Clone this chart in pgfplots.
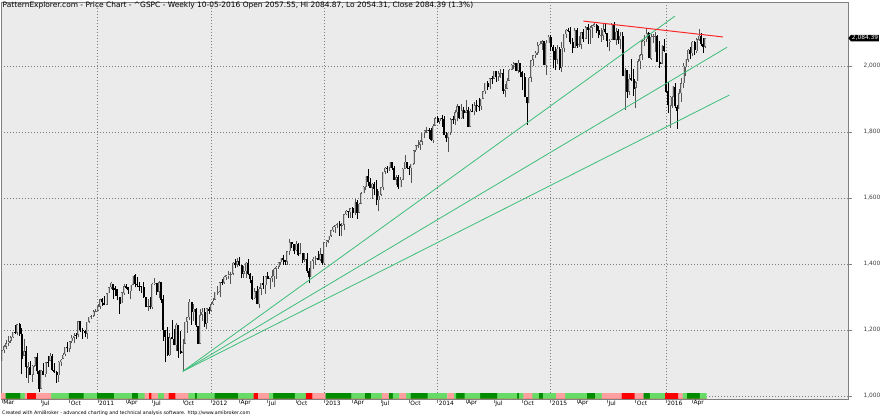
\documentclass[border=0pt]{standalone}
\usepackage{fontspec}
\setmainfont{DejaVu Sans}
\usepackage{pgfplots}
\pgfplotsset{compat=1.18}
\usepackage{pgfplotstable}
\usetikzlibrary{shapes.symbols}

\definecolor{bgc}{RGB}{235,235,235}
\definecolor{gridc}{RGB}{125,125,125}
\definecolor{upw}{RGB}{85,85,85}
\definecolor{upo}{RGB}{95,95,95}
\definecolor{upi}{RGB}{205,205,205}
\definecolor{dgreen}{RGB}{0,140,0}
\definecolor{lgreen}{RGB}{102,220,102}
\definecolor{lred}{RGB}{255,160,160}
\definecolor{dred}{RGB}{250,0,0}
\definecolor{tgreen}{RGB}{60,190,120}
\definecolor{tred}{RGB}{250,40,40}

% weekly bars: week index, open, high, low, close, state of the colour band
\pgfplotstableread{
i o h l c s
0 1105.4 1139.4 1105.4 1138.70 3
1 1138.4 1153.4 1131.4 1149.99 3
2 1148.5 1169.2 1141.4 1159.90 1
3 1160.0 1181.0 1152.0 1166.59 1
4 1167.6 1182.0 1161.5 1178.10 1
5 1178.7 1194.7 1175.1 1194.37 1
6 1194.9 1213.9 1186.8 1192.13 1
7 1192.1 1217.5 1183.4 1217.28 1
8 1217.0 1219.8 1181.6 1186.69 1
9 1188.6 1205.1 1065.8 1110.88 2
10 1122.3 1173.6 1122.3 1135.68 2
11 1136.5 1150.5 1055.9 1087.69 3
12 1084.8 1104.3 1040.8 1089.41 4
13 1087.3 1105.7 1064.4 1064.88 4
14 1065.0 1093.0 1042.2 1091.60 4
15 1092.0 1119.1 1087.7 1117.51 4
16 1117.7 1131.2 1066.6 1076.76 3
17 1077.0 1079.6 1010.9 1022.58 3
18 1022.6 1078.0 1022.6 1077.96 3
19 1077.2 1099.0 1063.3 1064.88 3
20 1066.0 1103.7 1056.9 1102.66 3
21 1102.9 1120.9 1088.0 1101.60 3
22 1107.5 1129.2 1104.6 1121.64 3
23 1122.0 1127.3 1076.6 1079.25 2
24 1077.6 1100.1 1069.4 1071.69 2
25 1073.4 1074.8 1039.7 1064.59 2
26 1062.9 1105.1 1040.9 1104.51 2
27 1102.6 1110.9 1091.1 1109.55 2
28 1113.4 1131.5 1113.4 1125.59 2
29 1126.6 1148.9 1122.7 1148.67 2
30 1148.6 1162.8 1131.9 1146.24 2
31 1143.7 1167.7 1131.9 1165.15 1
32 1165.3 1184.4 1159.7 1176.19 1
33 1176.8 1189.4 1159.1 1183.08 1
34 1184.7 1190.9 1171.2 1183.26 1
35 1185.7 1227.1 1177.7 1225.85 1
36 1226.6 1227.7 1194.4 1199.21 1
37 1200.4 1207.4 1173.0 1199.73 1
38 1196.8 1200.2 1177.5 1189.40 2
39 1189.1 1225.6 1173.6 1224.71 2
40 1225.0 1240.5 1221.5 1240.40 2
41 1242.5 1246.7 1232.9 1243.91 2
42 1243.9 1259.4 1240.3 1256.77 2
43 1254.7 1262.6 1254.2 1257.64 2
44 1257.6 1278.2 1257.6 1271.50 1
45 1270.8 1293.3 1262.7 1293.24 1
46 1293.2 1296.1 1271.3 1283.35 1
47 1283.3 1302.7 1275.1 1276.34 1
48 1276.5 1311.0 1276.5 1310.87 1
49 1311.8 1330.8 1311.7 1329.15 1
50 1329.0 1344.1 1324.6 1343.01 1
51 1340.4 1340.4 1294.3 1319.88 1
52 1328.6 1332.3 1302.6 1321.15 2
53 1322.7 1322.7 1291.9 1304.28 2
54 1301.2 1301.2 1249.1 1279.20 2
55 1281.7 1314.2 1281.7 1313.80 2
56 1311.8 1337.9 1305.9 1332.41 2
57 1332.0 1339.5 1322.9 1328.17 2
58 1329.0 1329.0 1309.7 1319.68 2
59 1318.0 1337.5 1294.7 1337.38 2
60 1337.1 1364.6 1334.9 1363.61 1
61 1365.2 1370.6 1329.2 1340.20 1
62 1340.2 1359.4 1329.6 1337.77 1
63 1334.1 1346.8 1318.5 1333.27 2
64 1333.1 1334.0 1311.8 1331.10 2
65 1331.1 1345.2 1297.9 1300.16 2
66 1300.3 1300.3 1268.2 1270.98 3
67 1271.3 1292.5 1258.1 1271.50 3
68 1271.5 1298.6 1262.9 1268.45 4
69 1268.4 1341.0 1262.7 1339.67 3
70 1339.6 1356.5 1335.2 1343.80 3
71 1343.3 1343.3 1307.0 1316.14 3
72 1315.9 1347.0 1295.9 1345.02 2
73 1344.3 1344.3 1282.9 1292.28 2
74 1292.6 1307.4 1168.1 1199.38 2
75 1198.5 1198.5 1101.5 1178.81 3
76 1179.2 1208.5 1121.1 1123.53 3
77 1123.2 1190.7 1122.7 1176.80 4
78 1177.9 1230.7 1172.6 1173.97 4
79 1173.9 1204.4 1153.2 1154.23 4
80 1153.5 1220.4 1136.2 1216.01 3
81 1214.0 1214.0 1114.2 1136.43 3
82 1136.9 1195.9 1127.4 1131.42 3
83 1131.2 1171.4 1074.8 1155.46 3
84 1158.2 1224.6 1158.2 1224.58 3
85 1224.5 1239.0 1191.5 1238.25 3
86 1238.7 1292.7 1231.5 1285.09 2
87 1284.9 1285.0 1215.4 1253.23 2
88 1253.2 1277.6 1226.6 1263.85 2
89 1263.9 1266.7 1209.4 1215.65 1
90 1212.5 1212.5 1158.6 1158.67 2
91 1158.7 1264.3 1158.7 1244.28 2
92 1246.0 1267.1 1227.7 1255.19 2
93 1255.1 1267.1 1209.5 1219.66 2
94 1219.7 1265.4 1202.4 1265.33 2
95 1265.0 1269.4 1248.6 1257.60 2
96 1258.9 1284.6 1258.9 1277.81 2
97 1277.8 1296.8 1274.3 1289.09 2
98 1292.0 1315.5 1290.2 1315.38 1
99 1315.3 1333.5 1306.1 1316.33 1
100 1316.2 1345.3 1300.5 1344.90 1
101 1344.3 1354.3 1335.9 1342.64 1
102 1343.1 1363.4 1340.0 1361.23 1
103 1361.2 1367.8 1352.0 1365.74 1
104 1365.2 1378.0 1354.9 1369.63 1
105 1369.6 1374.4 1340.0 1370.87 1
106 1370.8 1405.9 1365.7 1404.17 1
107 1404.2 1414.0 1386.9 1397.11 1
108 1397.1 1419.2 1391.6 1408.47 1
109 1408.5 1422.4 1392.6 1398.08 2
110 1397.5 1397.5 1357.4 1370.26 2
111 1370.3 1392.8 1358.8 1378.53 2
112 1378.5 1406.6 1358.2 1403.36 2
113 1403.3 1415.3 1367.8 1369.10 2
114 1368.8 1373.9 1343.1 1353.39 2
115 1351.9 1363.1 1291.9 1295.22 2
116 1295.7 1328.5 1294.3 1317.82 4
117 1317.4 1334.2 1277.3 1278.04 4
118 1278.0 1329.1 1266.7 1325.66 3
119 1325.7 1343.3 1306.6 1342.84 3
120 1342.4 1363.5 1324.4 1335.02 3
121 1334.9 1362.2 1309.3 1362.16 3
122 1362.3 1374.8 1354.3 1354.68 3
123 1354.7 1357.0 1325.4 1356.78 2
124 1356.5 1380.4 1345.1 1362.66 2
125 1362.3 1389.2 1329.2 1385.97 1
126 1385.9 1394.2 1354.7 1390.99 1
127 1391.0 1406.1 1385.9 1405.87 1
128 1405.9 1418.7 1397.3 1418.16 1
129 1418.1 1426.7 1398.0 1411.13 1
130 1411.1 1413.5 1397.4 1406.58 1
131 1406.5 1438.0 1396.6 1437.92 1
132 1438.4 1474.5 1427.2 1465.77 1
133 1465.4 1467.1 1449.6 1460.15 1
134 1460.3 1460.3 1430.5 1440.67 1
135 1440.9 1470.9 1439.0 1460.93 2
136 1460.3 1464.0 1425.5 1428.59 2
137 1428.8 1464.0 1427.8 1433.19 2
138 1433.2 1433.2 1403.3 1411.94 2
139 1411.9 1434.3 1405.6 1414.20 2
140 1414.0 1433.4 1373.0 1379.85 4
141 1379.9 1388.8 1343.4 1359.88 4
142 1359.9 1409.2 1359.9 1409.15 4
143 1409.2 1420.0 1385.4 1416.18 3
144 1416.2 1423.7 1398.1 1418.07 3
145 1418.1 1438.6 1411.9 1413.58 3
146 1413.5 1448.0 1408.6 1430.15 3
147 1430.2 1430.2 1398.1 1402.43 3
148 1402.4 1467.9 1398.1 1466.47 3
149 1466.5 1472.3 1451.6 1472.05 1
150 1472.1 1486.0 1463.8 1485.98 1
151 1486.0 1503.3 1482.3 1502.96 1
152 1503.0 1514.4 1496.3 1513.17 1
153 1513.2 1518.3 1495.0 1517.93 1
154 1517.9 1524.7 1508.2 1519.79 1
155 1519.8 1530.9 1485.0 1515.60 1
156 1515.6 1525.3 1485.0 1518.20 1
157 1518.2 1552.5 1501.5 1551.18 1
158 1551.2 1563.6 1547.4 1560.70 1
159 1560.7 1560.7 1538.6 1556.89 1
160 1556.9 1570.3 1538.6 1569.19 1
161 1569.2 1573.7 1539.5 1553.28 2
162 1553.3 1597.4 1548.6 1588.85 2
163 1588.8 1592.6 1536.0 1555.25 2
164 1555.3 1585.6 1555.3 1582.24 2
165 1582.3 1618.5 1581.3 1614.42 2
166 1614.4 1635.0 1614.4 1633.70 2
167 1633.7 1667.5 1623.7 1667.47 1
168 1667.5 1687.2 1635.5 1649.60 1
169 1649.6 1661.5 1630.7 1630.74 1
170 1631.7 1646.5 1598.2 1643.38 2
171 1643.4 1648.7 1608.1 1626.73 2
172 1626.7 1654.2 1577.7 1592.43 2
173 1592.4 1620.1 1560.3 1606.28 2
174 1609.8 1632.1 1604.6 1631.89 2
175 1631.9 1680.2 1624.7 1680.19 3
176 1680.2 1693.1 1671.8 1692.09 3
177 1692.1 1698.4 1676.0 1691.65 3
178 1691.6 1709.7 1681.9 1709.67 1
179 1709.7 1709.7 1684.9 1691.42 1
180 1691.4 1697.9 1654.2 1655.83 2
181 1655.8 1669.5 1639.4 1663.50 2
182 1663.5 1669.0 1627.5 1632.97 2
183 1633.0 1664.8 1633.0 1655.17 3
184 1655.2 1689.9 1655.2 1687.99 3
185 1688.0 1729.9 1688.0 1709.91 3
186 1709.9 1710.0 1687.5 1691.75 2
187 1691.8 1696.6 1670.4 1690.50 2
188 1690.5 1703.4 1646.5 1703.20 1
189 1703.2 1745.3 1700.7 1744.50 1
190 1744.5 1759.8 1740.5 1759.77 1
191 1759.8 1775.2 1752.3 1761.64 1
192 1761.6 1774.5 1746.2 1770.61 1
193 1770.6 1798.2 1761.6 1798.18 1
194 1798.2 1804.8 1780.6 1804.76 1
195 1804.8 1813.6 1797.3 1805.81 1
196 1805.8 1811.0 1779.1 1805.09 2
197 1805.1 1811.5 1772.3 1775.32 2
198 1775.3 1823.8 1767.1 1818.32 2
199 1818.3 1844.9 1818.3 1841.40 2
200 1841.4 1849.4 1827.7 1831.37 2
201 1832.3 1843.2 1823.7 1842.37 2
202 1842.3 1850.8 1815.5 1838.70 2
203 1838.7 1849.3 1790.2 1790.29 2
204 1791.0 1798.8 1770.4 1782.59 2
205 1782.7 1798.0 1737.9 1797.02 3
206 1797.0 1841.7 1791.8 1838.63 3
207 1838.6 1847.5 1824.6 1836.25 3
208 1836.8 1867.9 1820.5 1859.45 2
209 1859.4 1883.6 1834.4 1878.04 1
210 1878.0 1878.0 1839.6 1841.13 1
211 1841.1 1883.9 1839.5 1866.52 1
212 1866.5 1875.2 1840.2 1857.62 1
213 1857.6 1897.3 1857.6 1865.09 2
214 1865.1 1875.3 1814.4 1815.69 2
215 1815.7 1869.6 1815.7 1864.85 2
216 1865.0 1884.9 1859.3 1863.40 2
217 1863.4 1891.3 1850.6 1881.14 2
218 1881.1 1897.1 1859.8 1878.48 2
219 1878.5 1902.2 1862.4 1877.86 2
220 1877.9 1901.3 1868.1 1900.53 1
221 1900.5 1924.0 1900.5 1923.57 1
222 1923.6 1949.5 1915.9 1949.44 1
223 1949.4 1955.6 1925.8 1936.16 1
224 1936.2 1963.9 1930.1 1962.87 1
225 1962.9 1968.2 1944.7 1960.96 1
226 1961.0 1985.6 1960.9 1985.44 1
227 1985.4 1985.6 1952.9 1967.57 1
228 1967.6 1983.9 1955.6 1978.22 2
229 1978.2 1991.4 1964.8 1978.34 2
230 1978.3 1991.2 1916.1 1925.15 2
231 1925.2 1946.7 1904.8 1931.59 2
232 1931.6 1964.7 1928.8 1955.06 2
233 1955.1 1991.0 1955.1 1988.40 2
234 1988.4 2005.0 1988.0 2003.37 2
235 2003.4 2011.2 1990.1 2007.71 2
236 2007.7 2009.0 1983.8 1985.54 2
237 1985.5 2019.3 1978.6 2010.40 1
238 2010.4 2010.4 1965.1 1982.85 2
239 1982.9 1985.2 1926.0 1967.90 2
240 1967.9 1977.4 1905.0 1906.13 3
241 1906.1 1906.1 1820.7 1886.76 3
242 1886.8 1965.3 1886.8 1964.58 3
243 1964.6 2018.2 1951.4 2018.05 3
244 2018.2 2034.3 2001.0 2031.92 2
245 2032.1 2046.2 2025.3 2039.82 2
246 2039.7 2071.5 2034.5 2063.50 2
247 2063.5 2075.8 2062.8 2067.56 1
248 2067.5 2079.5 2049.6 2075.37 1
249 2074.8 2076.3 2002.1 2002.33 2
250 2002.9 2077.9 1972.6 2070.65 2
251 2069.3 2093.6 2069.3 2088.77 2
252 2087.6 2093.6 2046.5 2058.20 2
253 2058.9 2064.4 1992.4 2044.81 2
254 2046.1 2056.9 1988.1 2019.42 2
255 2019.3 2064.6 2004.5 2051.82 3
256 2050.4 2057.6 1989.2 1994.99 3
257 1996.7 2072.4 1980.9 2055.47 3
258 2053.5 2097.0 2041.9 2096.99 3
259 2096.5 2110.6 2085.4 2110.30 2
260 2109.8 2115.8 2103.0 2104.50 2
261 2105.2 2119.6 2067.3 2071.26 2
262 2072.2 2083.5 2039.7 2053.40 2
263 2055.4 2113.9 2055.4 2108.10 2
264 2107.9 2114.9 2055.5 2061.02 2
265 2064.1 2089.8 2056.8 2066.96 2
266 2064.9 2102.6 2052.6 2102.06 2
267 2102.9 2111.9 2072.4 2081.18 2
268 2082.1 2120.9 2082.1 2117.69 2
269 2119.3 2125.9 2067.9 2108.29 1
270 2110.2 2120.5 2067.9 2116.10 1
271 2115.6 2123.9 2085.3 2122.73 1
272 2121.9 2134.7 2117.2 2126.06 1
273 2125.3 2126.2 2099.2 2107.39 2
274 2108.6 2121.0 2085.7 2092.83 2
275 2092.3 2115.4 2072.1 2094.11 2
276 2091.3 2126.6 2079.7 2109.99 3
277 2110.6 2130.0 2097.4 2101.49 3
278 2098.6 2098.6 2056.6 2076.78 3
279 2073.0 2081.3 2044.0 2076.62 3
280 2080.0 2129.9 2079.4 2126.64 3
281 2126.8 2132.8 2077.4 2079.65 3
282 2079.6 2114.2 2063.5 2103.84 3
283 2104.5 2112.7 2067.9 2077.57 3
284 2080.0 2104.2 2052.1 2091.54 3
285 2089.7 2102.9 1970.8 1970.89 4
286 1965.2 1993.5 1867.0 1988.87 4
287 1986.7 1986.7 1903.1 1921.22 4
288 1921.8 1975.0 1911.7 1961.05 4
289 1963.1 2020.9 1953.5 1958.08 4
290 1960.8 1989.6 1908.8 1931.34 4
291 1934.6 1953.1 1871.9 1951.36 3
292 1954.3 2020.9 1954.3 2014.89 3
293 2013.7 2034.9 1990.7 2033.11 3
294 2033.5 2079.7 2018.9 2075.15 3
295 2075.1 2094.3 2059.2 2079.36 1
296 2080.8 2116.5 2072.9 2099.20 1
297 2100.0 2101.5 2022.9 2023.04 1
298 2022.1 2097.1 2019.4 2089.17 2
299 2089.4 2095.6 2070.3 2090.11 2
300 2090.9 2104.3 2042.4 2091.69 2
301 2091.4 2093.8 2012.2 2012.37 2
302 2013.4 2076.7 1993.3 2005.55 2
303 2006.8 2064.7 2005.6 2060.99 2
304 2060.5 2081.6 2043.6 2043.94 2
305 2038.2 2038.2 1918.5 1922.03 4
306 1923.3 1950.3 1857.8 1880.33 4
307 1878.9 1908.9 1812.3 1906.90 4
308 1906.3 1940.3 1872.7 1940.24 4
309 1936.9 1947.2 1872.7 1880.05 4
310 1877.1 1881.6 1810.1 1864.78 4
311 1868.4 1930.7 1868.4 1917.78 3
312 1917.8 1962.9 1891.0 1948.05 3
313 1947.1 2009.1 1931.8 1999.99 2
314 1996.1 2022.4 1969.3 2022.19 2
315 2019.3 2052.4 2012.1 2049.58 1
316 2048.6 2056.6 2022.5 2035.94 1
317 2037.9 2075.1 2029.1 2072.78 1
318 2073.2 2075.1 2033.8 2047.60 1
319 2043.9 2083.4 2039.7 2080.73 1
320 2078.8 2111.1 2075.0 2091.58 1
321 2091.6 2099.9 2060.1 2065.30 2
322 2067.2 2083.4 2039.7 2057.14 2
323 2057.55 2084.87 2054.31 2084.39 2
}\weekly

\tikzset{dotgrid/.style={draw=gridc, line width=0.8pt, dash pattern=on 0.8pt off 2.2pt}}
% rows that do not belong to a plot are sent to y=0, far below ymin, and clipped away
\pgfplotsset{
  bandbar/.style={ybar, bar width=2.3pt, bar shift=0pt, draw=none, fill=#1},
  candle/.style 2 args={draw=none, mark=none,
    error bars/y dir=plus, error bars/y explicit, error bars/error mark=none,
    error bars/error bar style={draw=#1, line width=#2}},
}

\begin{document}
\begin{tikzpicture}
\path[use as bounding box] (0,0) rectangle (880pt,415pt);
\begin{axis}[
  at={(1pt,16pt)}, anchor=south west,
  scale only axis, width=847pt, height=397pt,
  xmin=-0.5, xmax=388.5, ymin=990.9, ymax=2193.9,
  clip mode=individual,
  axis background/.style={fill=bgc},
  axis line style={draw=gray, line width=0.8pt},
  tick align=outside, xtick pos=bottom, ytick pos=right,
  major tick length=4pt,
  tick style={draw=gray, line width=0.6pt, solid},
  ytick={1000,1200,1400,1600,1800,2000},
  xmajorgrids=false, ymajorgrids=false,
  xtick={0,18,31,44,57,69,83,96,109,122,135,148,161,174,187,200,213,226,239,252,264,278,291,305,317},
  xticklabels={Mar,Jul,Oct,2011,Apr,Jul,Oct,2012,Apr,Jul,Oct,2013,Apr,Jul,Oct,2014,Apr,Jul,Oct,2015,Apr,Jul,Oct,2016,Apr},
  xticklabel style={font=\fontsize{5.9}{7}\selectfont, anchor=north west, inner sep=0pt, xshift=1pt, yshift=2.5pt},
  yticklabel style={font=\fontsize{5.9}{7}\selectfont, text=black!75, xshift=8pt},
  /pgf/number format/1000 sep={,},
  /pgf/number format/assume math mode=true,
]
% dotted grid: price levels and the start of each year
\pgfplotsinvokeforeach{1000,1200,1400,1600,1800,2000}{
  \draw[dotgrid] (axis cs:-0.5,#1) -- (axis cs:388.5,#1);
}
\pgfplotsinvokeforeach{44,96,148,200,252,305}{
  \draw[dotgrid] (axis cs:#1,990.9) -- (axis cs:#1,2193.9);
}

% colour band along the bottom
\addplot[bandbar=dgreen] table[x=i, y expr={\thisrow{s}==1 ? 1009 : 0}] {\weekly};
\addplot[bandbar=lgreen] table[x=i, y expr={\thisrow{s}==2 ? 1009 : 0}] {\weekly};
\addplot[bandbar=lred]   table[x=i, y expr={\thisrow{s}==3 ? 1009 : 0}] {\weekly};
\addplot[bandbar=dred]   table[x=i, y expr={\thisrow{s}==4 ? 1009 : 0}] {\weekly};

% up candles: wick, outline, light inside
\addplot[candle={upw}{0.6pt}] table[x=i, y expr={\thisrow{c}<\thisrow{o} ? 0 : \thisrow{l}},
  y error expr=\thisrow{h}-\thisrow{l}] {\weekly};
\addplot[candle={upo}{2pt}] table[x=i, y expr={\thisrow{c}<\thisrow{o} ? 0 : \thisrow{o}},
  y error expr={abs(\thisrow{c}-\thisrow{o})}] {\weekly};
\addplot[candle={upi}{0.7pt}] table[x=i, y expr={\thisrow{c}<\thisrow{o} ? 0 : \thisrow{o}+1.5},
  y error expr={max(\thisrow{c}-\thisrow{o}-3,0)}] {\weekly};
% down candles
\addplot[candle={black}{0.6pt}] table[x=i, y expr={\thisrow{c}<\thisrow{o} ? \thisrow{l} : 0},
  y error expr=\thisrow{h}-\thisrow{l}] {\weekly};
\addplot[candle={black}{2pt}] table[x=i, y expr={\thisrow{c}<\thisrow{o} ? \thisrow{c} : 0},
  y error expr={abs(\thisrow{o}-\thisrow{c})}] {\weekly};

% trend lines
\addplot[tgreen, line width=0.8pt] coordinates {(83,1074.77) (309,2151)};
\addplot[tgreen, line width=0.8pt] coordinates {(83,1074.77) (333,2057)};
\addplot[tgreen, line width=0.8pt] coordinates {(83,1074.77) (334,1912)};
\addplot[tred, line width=1pt] coordinates {(267,2136) (331,2088)};

\node[signal, signal to=west, signal pointer angle=100, fill=black, text=white,
  inner sep=0.8pt, font=\fontsize{5.9}{6}\selectfont, anchor=west]
  at (axis cs:388.5,2084.39) {2,084.39};
\end{axis}
\node[anchor=north west, inner sep=0pt, font=\fontsize{7.45}{8}\selectfont] at (2.5pt,413.5pt)
  {PatternExplorer.com - Price Chart - \textasciicircum GSPC - Weekly 10-05-2016 Open 2057.55, Hi 2084.87, Lo 2054.31, Close 2084.39 (1.3\%)};
\node[anchor=base west, inner sep=0pt, font=\fontsize{4.75}{5}\selectfont] at (2pt,1pt)
  {Created with AmiBroker - advanced charting and technical analysis software. http://www.amibroker.com};
\end{tikzpicture}
\end{document}
